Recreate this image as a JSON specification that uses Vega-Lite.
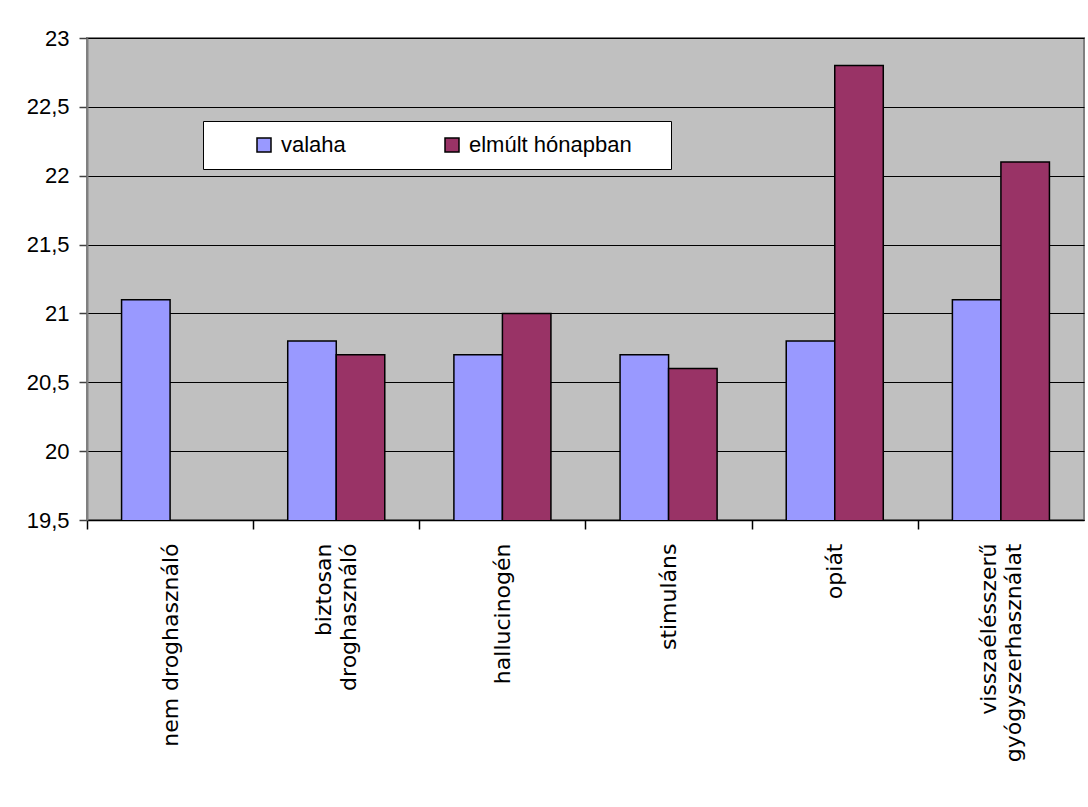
{
  "$schema": "https://vega.github.io/schema/vega-lite/v6.json",
  "width": 997,
  "height": 482,
  "autosize": {"type": "none"},
  "padding": {"left": 87, "top": 38, "right": 4, "bottom": 287},
  "background": "white",
  "data": {
    "values": [
      {"kategoria": "nem droghasználó", "sorozat": "valaha", "ertek": 21.1},
      {"kategoria": "biztosan\ndroghasználó", "sorozat": "valaha", "ertek": 20.8},
      {"kategoria": "biztosan\ndroghasználó", "sorozat": "elmúlt hónapban", "ertek": 20.7},
      {"kategoria": "hallucinogén", "sorozat": "valaha", "ertek": 20.7},
      {"kategoria": "hallucinogén", "sorozat": "elmúlt hónapban", "ertek": 21.0},
      {"kategoria": "stimuláns", "sorozat": "valaha", "ertek": 20.7},
      {"kategoria": "stimuláns", "sorozat": "elmúlt hónapban", "ertek": 20.6},
      {"kategoria": "opiát", "sorozat": "valaha", "ertek": 20.8},
      {"kategoria": "opiát", "sorozat": "elmúlt hónapban", "ertek": 22.8},
      {"kategoria": "visszaélésszerű\ngyógyszerhasználat", "sorozat": "valaha", "ertek": 21.1},
      {"kategoria": "visszaélésszerű\ngyógyszerhasználat", "sorozat": "elmúlt hónapban", "ertek": 22.1}
    ]
  },
  "mark": {"type": "bar", "stroke": "black", "strokeWidth": 1.5, "clip": true},
  "encoding": {
    "x": {
      "field": "kategoria",
      "type": "nominal",
      "sort": null,
      "scale": {"paddingInner": 0.416, "paddingOuter": 0.208},
      "axis": {
        "title": null,
        "labelAngle": -90,
        "labelFont": "DejaVu Sans",
        "labelFontSize": 22,
        "labelColor": "black",
        "labelExpr": "split(datum.label, '\\n')",
        "labelLineHeight": 25,
        "labelPadding": 14,
        "labelLimit": 400,
        "tickOffset": -83.1,
        "labelOffset": {"condition": {"test": "indexof(datum.label, '\\n') >= 0", "value": 70.6}, "value": 83.1},
        "tickColor": "black",
        "tickSize": 9,
        "tickWidth": 1.5,
        "domainColor": "black",
        "domainWidth": 1.5,
        "grid": false
      }
    },
    "xOffset": {
      "field": "sorozat",
      "type": "nominal",
      "sort": ["valaha", "elmúlt hónapban"],
      "scale": {"paddingInner": 0, "paddingOuter": 0}
    },
    "y": {
      "field": "ertek",
      "type": "quantitative",
      "scale": {"domain": [19.5, 23], "zero": false, "nice": false},
      "axis": {
        "title": null,
        "values": [19.5, 20, 20.5, 21, 21.5, 22, 22.5, 23],
        "labelExpr": "replace(format(datum.value, '~g'), '.', ',')",
        "labelFontSize": 22,
        "labelColor": "black",
        "labelPadding": 10,
        "tickSize": 8,
        "tickColor": "#404040",
        "tickWidth": 1.5,
        "domainColor": "#808080",
        "domainWidth": 2,
        "grid": true,
        "gridColor": "black",
        "gridWidth": 1
      }
    },
    "color": {
      "field": "sorozat",
      "type": "nominal",
      "scale": {"domain": ["valaha", "elmúlt hónapban"], "range": ["#9999FF", "#993366"]},
      "legend": {
        "title": " ",
        "titleOrient": "right",
        "titlePadding": 26,
        "titleFontSize": 4,
        "orient": "none",
        "legendX": 116,
        "legendY": 83,
        "direction": "horizontal",
        "fillColor": "white",
        "strokeColor": "black",
        "padding": 13,
        "symbolType": "square",
        "symbolSize": 196,
        "symbolStrokeColor": "black",
        "symbolStrokeWidth": 1.5,
        "symbolOpacity": 1,
        "symbolOffset": 37,
        "labelOffset": 6,
        "labelFontSize": 22,
        "labelLimit": 400,
        "labelColor": "black",
        "columnPadding": 58
      }
    }
  },
  "config": {
    "font": "Liberation Sans",
    "view": {"fill": "#C0C0C0", "stroke": "#808080", "strokeWidth": 2}
  }
}
